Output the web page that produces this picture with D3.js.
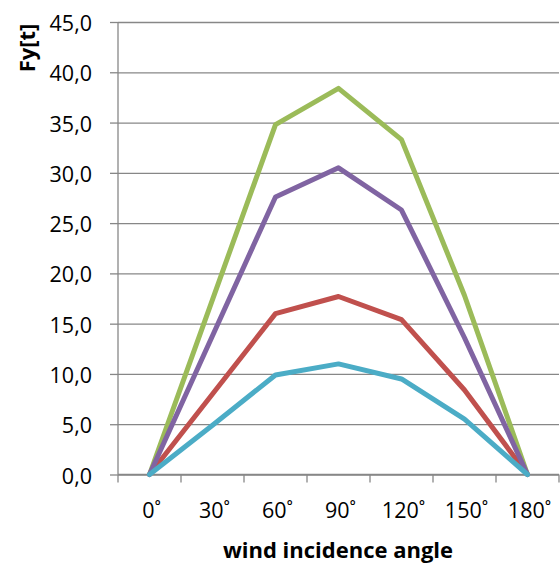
<!DOCTYPE html>
<html>
<head>
<meta charset="utf-8">
<script src="https://cdn.jsdelivr.net/npm/d3@7"></script>
<style>
  html, body { margin: 0; padding: 0; background: #fff; }
  text { font-family: "Open Sans", sans-serif; fill: #000; }
</style>
</head>
<body>
<div id="chart"></div>
<script>
// wind force vs incidence angle
const angles = ["0˚", "30˚", "60˚", "90˚", "120˚", "150˚", "180˚"];
const redValues    = [0, 8.0, 16.0, 17.7, 15.4, 8.4, 0];
const greenValues  = [0, 17.4, 34.8, 38.4, 33.3, 17.8, 0];
const purpleValues = [0, 13.8, 27.6, 30.5, 26.3, 13.6, 0];
const cyanValues   = [0, 4.9, 9.9, 11.0, 9.5, 5.5, 0];
const yTicks = [0, 5, 10, 15, 20, 25, 30, 35, 40, 45];

// drawing order matters, cyan ends up on top
const series = [
  { values: redValues,    color: "#c0504d" },
  { values: greenValues,  color: "#9bbb59" },
  { values: purpleValues, color: "#8064a2" },
  { values: cyanValues,   color: "#4bacc6" }
];

const width = 560;
const height = 565;
// plot box (window.top is taken, hence the names)
const plotLeft = 118, plotRight = 559, plotTop = 22, plotBottom = 474.5;

const svg = d3.select("#chart").append("svg")
  .attr("width", width)
  .attr("height", height);

const x = d3.scaleBand().domain(angles).range([plotLeft, plotRight]).paddingInner(0).paddingOuter(0);
const y = d3.scaleLinear().domain([0, 45]).range([plotBottom, plotTop]);

const fmt = v => d3.format(".1f")(v).replace(".", ",");

// horizontal gridlines
svg.append("g")
  .attr("transform", `translate(${plotLeft},0)`)
  .call(d3.axisLeft(y).tickValues(yTicks).tickSizeInner(-(plotRight - plotLeft)).tickSizeOuter(0).tickFormat(""))
  .call(g => g.select(".domain").remove())
  .call(g => g.selectAll(".tick line").attr("stroke", "#878787").attr("stroke-width", 1.3));

// y axis with small ticks to the left
svg.append("g")
  .attr("transform", `translate(${plotLeft},0)`)
  .call(d3.axisLeft(y).tickValues(yTicks).tickSizeInner(8).tickSizeOuter(0).tickPadding(18).tickFormat(fmt))
  .call(g => g.select(".domain").attr("stroke", "#878787").attr("stroke-width", 1.3)
    .attr("d", `M0,${plotBottom}V${plotTop}`))
  .call(g => g.selectAll(".tick line").attr("stroke", "#878787").attr("stroke-width", 1.3))
  .call(g => g.selectAll(".tick text").attr("font-size", 21.5).attr("font-family", "Open Sans").attr("fill", "#000").attr("dy", "0.4em"));

// x axis: ticks between categories, labels in the middle
const xAxis = svg.append("g").attr("transform", `translate(0,${plotBottom})`);
xAxis.append("line")
  .attr("x1", plotLeft).attr("x2", plotRight)
  .attr("stroke", "#878787").attr("stroke-width", 1.3);
const edges = angles.map(a => x(a)).concat([x.range()[1]]);
xAxis.selectAll(".xtick").data(edges).enter().append("line")
  .attr("x1", d => d).attr("x2", d => d)
  .attr("y1", 0).attr("y2", 8)
  .attr("stroke", "#878787").attr("stroke-width", 1.3);
xAxis.selectAll(".xlabel").data(angles).enter().append("text")
  .attr("x", d => x(d) + x.bandwidth() / 2 + 2)
  .attr("y", 43)
  .attr("text-anchor", "middle")
  .attr("font-size", 21.5)
  .text(d => d);

// the lines
const line = d3.line()
  .x((d, i) => x(angles[i]) + x.bandwidth() / 2)
  .y(d => y(d));

svg.selectAll(".series").data(series).enter().append("path")
  .attr("d", d => line(d.values))
  .attr("fill", "none")
  .attr("stroke", d => d.color)
  .attr("stroke-width", 5)
  .attr("stroke-linejoin", "round")
  .attr("stroke-linecap", "round");

// axis titles
svg.append("text")
  .attr("x", 338)
  .attr("y", 558)
  .attr("text-anchor", "middle")
  .attr("font-size", 22)
  .attr("font-weight", "bold")
  .text("wind incidence angle");

svg.append("text")
  .attr("transform", "translate(35,48) rotate(-90)")
  .attr("text-anchor", "middle")
  .attr("font-size", 22)
  .attr("font-weight", "bold")
  .text("Fy[t]");
</script>
</body>
</html>
